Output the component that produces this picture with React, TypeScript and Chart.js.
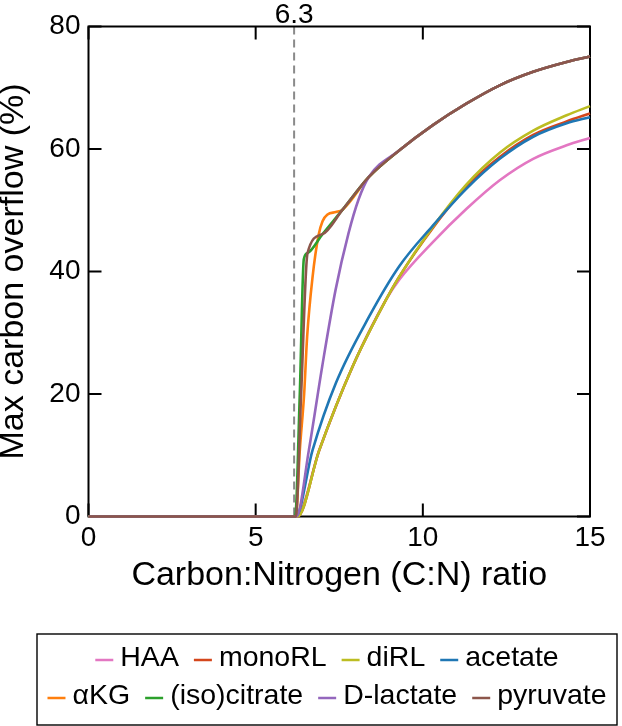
import { useEffect, useRef } from "react";
import { Chart, registerables } from "chart.js";

Chart.register(...registerables);

const FONT = '"Liberation Sans", Arial, Helvetica, sans-serif';

// Series names & colours
const seriesNames = ["HAA", "monoRL", "diRL", "acetate", "αKG", "(iso)citrate", "D-lactate", "pyruvate"];
const seriesColors = ["#e377c2", "#d4471c", "#bcbd22", "#1f77b4", "#ff7f0e", "#2ca02c", "#9467bd", "#8c564b"];

// Axis ticks
const xTicks = [0, 5, 10, 15];
const yTicks = [0, 20, 40, 60, 80];

// Threshold marker
const thresholdX = 6.15;
const thresholdLabel = "6.3";

// Shared upper branch (pyruvate-limited)
const tailX = [8.38, 9.3, 10.3, 11.3, 12.3, 13.3, 14.3, 15];
const tailY = [55.4, 59.8, 63.9, 67.4, 70.4, 72.6, 74.2, 75.1];

const haaX = [0, 6.22, 6.9, 7.9, 8.9, 9.3, 10.3, 11.3, 12.3, 13.3, 14.3, 15];
const haaY = [0, 0, 10.8, 24.5, 35.4, 38.7, 44.8, 50.2, 54.9, 58.4, 60.6, 61.8];

const monoX = [0, 6.25, 6.9, 7.9, 8.9, 9.3, 10.3, 11.3, 12.3, 13.3, 14.3, 15];
const monoY = [0, 0, 10.8, 24.5, 35.4, 39.2, 47.1, 53.8, 58.7, 62.3, 64.5, 65.8];

const diX = [0, 6.25, 6.9, 7.9, 8.9, 9.3, 10.3, 11.3, 12.3, 13.3, 14.3, 15];
const diY = [0, 0, 10.8, 24.5, 35.4, 39.2, 47.3, 54.2, 59.4, 63.0, 65.5, 67.0];

const acetateX = [0, 6.2, 6.7, 7.4, 8.4, 9.3, 10.3, 11.3, 12.3, 13.3, 14.3, 15];
const acetateY = [0, 0, 10.8, 21.8, 32.7, 40.9, 47.5, 53.5, 58.4, 62.0, 64.2, 65.2];

const akgX = [0, 6.2, 6.32, 6.45, 6.54, 6.7, 6.88, 7.0, 7.15, 7.4, 7.6];
const akgY = [0, 0, 10.8, 20, 29.4, 39, 45.9, 48.2, 49.3, 49.7, 50.1];

const citrateX = [0, 6.18, 6.32, 6.44, 6.55, 7.0, 7.6];
const citrateY = [0, 0, 20, 42, 43, 46.1, 50.1];

const lactateX = [0, 6.22, 6.59, 6.99, 7.39, 7.78, 8.08];
const lactateY = [0, 0, 10.8, 24.5, 37, 46.3, 51.8];

const pyruvateX = [0, 6.2, 6.36, 6.55, 7.0, 7.6];
const pyruvateY = [0, 0, 20, 43, 46.1, 50.1];

const seriesX = [haaX, monoX, diX, acetateX, akgX.concat(tailX), citrateX.concat(tailX), lactateX.concat(tailX), pyruvateX.concat(tailX)];
const seriesY = [haaY, monoY, diY, acetateY, akgY.concat(tailY), citrateY.concat(tailY), lactateY.concat(tailY), pyruvateY.concat(tailY)];

const framePlugin = {
  id: "frameAndLegend",
  beforeDatasetsDraw(chart: any) {
    const { ctx, chartArea: a, scales } = chart;
    const xs = scales.x;
    const ys = scales.y;
    ctx.save();
    // dashed threshold line
    const px = xs.getPixelForValue(thresholdX);
    ctx.strokeStyle = "#8a8a8a";
    ctx.lineWidth = 2;
    ctx.setLineDash([8, 5]);
    ctx.beginPath();
    ctx.moveTo(px, a.top);
    ctx.lineTo(px, a.bottom);
    ctx.stroke();
    ctx.setLineDash([]);
    // frame
    ctx.strokeStyle = "#000";
    ctx.lineWidth = 2;
    ctx.strokeRect(a.left, a.top, a.right - a.left, a.bottom - a.top);
    // inward ticks on all sides
    const tl = 13;
    ctx.beginPath();
    xs.ticks.forEach((t: any) => {
      const p = xs.getPixelForValue(t.value);
      ctx.moveTo(p, a.bottom);
      ctx.lineTo(p, a.bottom - tl);
      ctx.moveTo(p, a.top);
      ctx.lineTo(p, a.top + tl);
    });
    ys.ticks.forEach((t: any) => {
      const p = ys.getPixelForValue(t.value);
      ctx.moveTo(a.left, p);
      ctx.lineTo(a.left + tl, p);
      ctx.moveTo(a.right, p);
      ctx.lineTo(a.right - tl, p);
    });
    ctx.stroke();
    // threshold label
    ctx.fillStyle = "#000";
    ctx.font = `28px ${FONT}`;
    ctx.textAlign = "center";
    ctx.textBaseline = "middle";
    ctx.fillText(thresholdLabel, px, 15);
    ctx.restore();
  },
  afterDraw(chart: any) {
    const { ctx } = chart;
    const ds = chart.data.datasets;
    ctx.save();
    ctx.font = `28.5px ${FONT}`;
    ctx.textBaseline = "middle";
    ctx.textAlign = "left";
    const rows = [[0, 1, 2, 3], [4, 5, 6, 7]];
    const rowY = [658, 696];
    const markerW = 18;
    const markerGap = 7;
    const itemGap = 15;
    const boxL = 37, boxT = 634, boxR = 617, boxB = 725;
    const cx = (boxL + boxR) / 2;
    rows.forEach((row, r) => {
      const widths = row.map((i) => markerW + markerGap + ctx.measureText(ds[i].label).width);
      const total = widths.reduce((s, w) => s + w, 0) + itemGap * (row.length - 1);
      let xx = cx - total / 2;
      row.forEach((i, k) => {
        ctx.strokeStyle = ds[i].borderColor;
        ctx.lineWidth = 2.5;
        ctx.beginPath();
        ctx.moveTo(xx, rowY[r] + 2);
        ctx.lineTo(xx + markerW, rowY[r] + 2);
        ctx.stroke();
        ctx.fillStyle = "#000";
        ctx.fillText(ds[i].label, xx + markerW + markerGap, rowY[r]);
        xx += widths[k] + itemGap;
      });
    });
    ctx.strokeStyle = "#000";
    ctx.lineWidth = 1.4;
    ctx.strokeRect(boxL, boxT, boxR - boxL, boxB - boxT);
    ctx.restore();
  },
};

export default function App() {
  const ref = useRef<HTMLCanvasElement>(null);
  useEffect(() => {
    if (!ref.current) return;
    Chart.defaults.font.family = FONT;
    const datasets = seriesNames.map((name, i) => ({
      label: name,
      data: seriesX[i].map((x, j) => ({ x, y: seriesY[i][j] })),
      borderColor: seriesColors[i],
      backgroundColor: seriesColors[i],
      borderWidth: 2.6,
      pointRadius: 0,
      cubicInterpolationMode: "monotone" as const,
      clip: 6,
      order: seriesNames.length - i,
    }));
    const chart = new Chart(ref.current, {
      type: "line",
      data: { datasets },
      options: {
        animation: false,
        responsive: false,
        layout: { padding: { top: 26.5, right: 32, bottom: 133, left: 0 } },
        plugins: { legend: { display: false }, tooltip: { enabled: false } },
        scales: {
          x: {
            type: "linear",
            min: xTicks[0],
            max: xTicks[xTicks.length - 1],
            afterBuildTicks: (s: any) => { s.ticks = xTicks.map((v) => ({ value: v })); },
            afterFit: (s: any) => { s.height = 76.5; },
            grid: { display: false, drawTicks: false },
            border: { display: false },
            ticks: { color: "#000", font: { size: 28 }, padding: 5, maxRotation: 0 },
            title: { display: true, text: "Carbon:Nitrogen (C:N) ratio", color: "#000", font: { size: 34, lineHeight: 1 }, padding: 0 },
          },
          y: {
            type: "linear",
            min: yTicks[0],
            max: yTicks[yTicks.length - 1],
            afterBuildTicks: (s: any) => { s.ticks = yTicks.map((v) => ({ value: v })); },
            afterFit: (s: any) => { s.width = 88.5; },
            grid: { display: false, drawTicks: false },
            border: { display: false },
            ticks: { color: "#000", font: { size: 28 }, padding: 8 },
            title: { display: true, text: "Max carbon overflow (%)", color: "#000", font: { size: 34, lineHeight: 0.8 }, padding: 0 },
          },
        },
      },
      plugins: [framePlugin],
    });
    return () => chart.destroy();
  }, []);
  return (
    <div style={{ position: "fixed", left: 0, top: 0, width: 622, height: 726, background: "#fff" }}>
      <canvas ref={ref} width={622} height={726} style={{ display: "block" }} />
    </div>
  );
}
